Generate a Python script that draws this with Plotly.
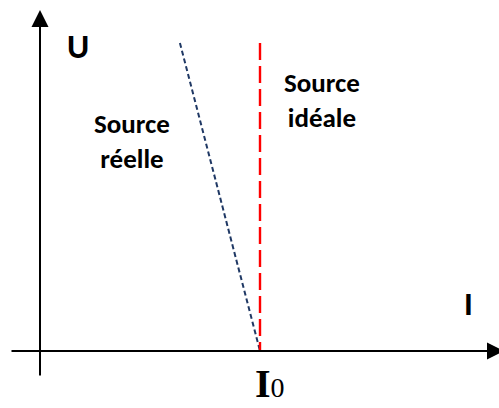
import plotly.graph_objects as go

# ---- data (current I, voltage U), I0 = 1 ----
I0 = 1.0
ideal_current = [1.0, 1.0]
ideal_voltage = [1.4, 0.0]
real_current = [0.636, 1.0]
real_voltage = [1.4, 0.0]

axis_x_label = "I"
axis_y_label = "U"
label_real = "Source<br>réelle"
label_ideal = "Source<br>idéale"

W, H = 499, 408
S = 220.0  # pixels per unit
x0_px, y0_px = 40, 351
xr = [-x0_px / S, (W - x0_px) / S]
yr = [-(H - y0_px) / S, y0_px / S]

fig = go.Figure()
fig.add_trace(go.Scatter(x=real_current, y=real_voltage, mode="lines",
                         line=dict(color="#1f3864", width=2, dash="5px,3px"),
                         hoverinfo="skip", showlegend=False))
fig.add_trace(go.Scatter(x=ideal_current, y=ideal_voltage, mode="lines",
                         line=dict(color="#ff0000", width=2.4, dash="17px,6px"),
                         hoverinfo="skip", showlegend=False))

ann = []
# axes arrows
ann.append(dict(x=0, y=(y0_px - 10) / S, ax=0, ay=(y0_px - 377) / S,
                xref="x", yref="y", axref="x", ayref="y", text="",
                showarrow=True, arrowhead=2, arrowsize=1.7, arrowwidth=2, arrowcolor="black"))
ann.append(dict(x=(504 - x0_px) / S, y=0, ax=(10 - x0_px) / S, ay=0,
                xref="x", yref="y", axref="x", ayref="y", text="",
                showarrow=True, arrowhead=2, arrowsize=1.7, arrowwidth=2, arrowcolor="black"))

sans = "Carlito, Lato, sans-serif"
ann.append(dict(x=(78 - x0_px) / S, y=(y0_px - 46) / S, xref="x", yref="y", text=f"<b>{axis_y_label}</b>",
                showarrow=False, font=dict(family=sans, size=34, color="black")))
ann.append(dict(x=(468 - x0_px) / S, y=(y0_px - 304) / S, xref="x", yref="y", text=f"<b>{axis_x_label}</b>",
                showarrow=False, font=dict(family=sans, size=33, color="black")))
ann.append(dict(x=(132 - x0_px) / S, y=(y0_px - 141) / S, xref="x", yref="y", text=f"<b>{label_real}</b>",
                showarrow=False, font=dict(family=sans, size=27, color="black")))
ann.append(dict(x=(322 - x0_px) / S, y=(y0_px - 100) / S, xref="x", yref="y", text=f"<b>{label_ideal}</b>",
                showarrow=False, font=dict(family=sans, size=27, color="black")))
ann.append(dict(x=I0 + 10 / S, y=(y0_px - 407) / S, xref="x", yref="y", yanchor="bottom",
                borderpad=0, text="<b>I</b><span style='font-size:28px'>0</span>",
                showarrow=False, font=dict(family="Liberation Serif, Times New Roman, serif", size=40, color="black")))

fig.update_layout(
    width=W, height=H, margin=dict(l=0, r=0, t=0, b=0),
    paper_bgcolor="white", plot_bgcolor="white",
    xaxis=dict(range=xr, visible=False, fixedrange=True),
    yaxis=dict(range=yr, visible=False, fixedrange=True),
    annotations=ann, showlegend=False,
)
fig.write_html("out.html", config={"displayModeBar": False},
               post_script="document.body.style.margin='0';document.body.style.overflow='hidden';")
